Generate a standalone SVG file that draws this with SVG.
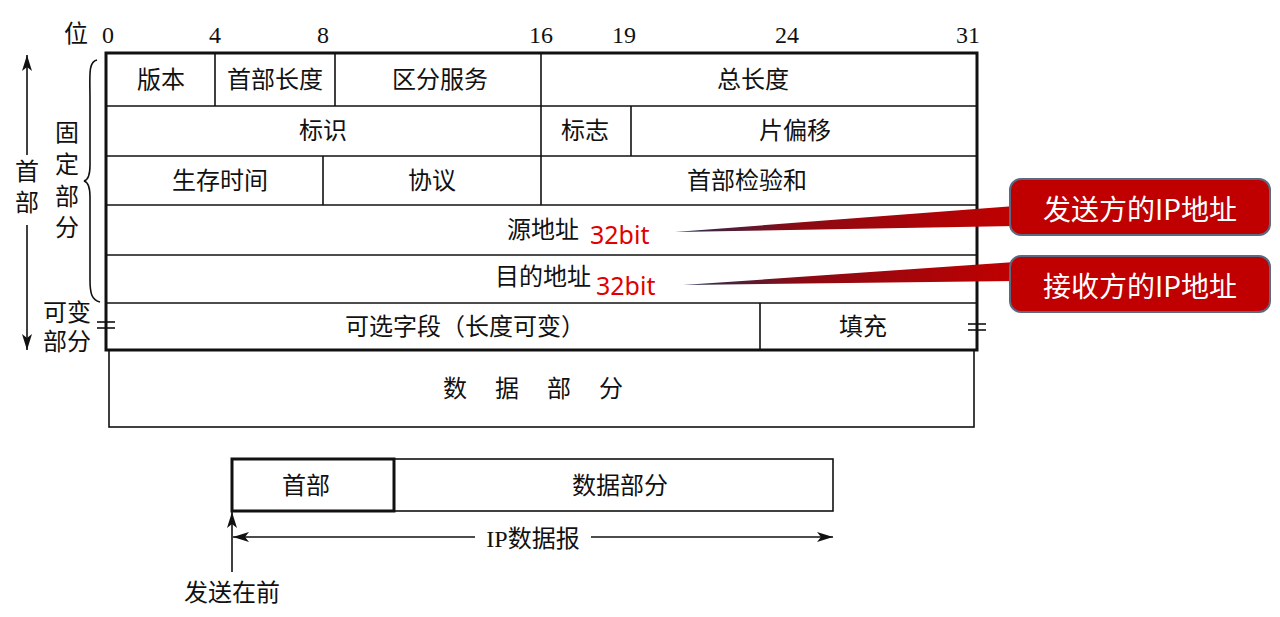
<svg xmlns="http://www.w3.org/2000/svg" width="1280" height="617" viewBox="0 0 1280 617">
<defs>
<style>
.t{font-family:"Liberation Serif","Noto Sans CJK SC",serif;font-size:24px;fill:#111;text-anchor:middle;dominant-baseline:central}
.n{font-family:"Liberation Serif",serif;font-size:24px;fill:#111;text-anchor:middle}
.thin{stroke:#111;stroke-width:1.6;fill:none}
.thick{stroke:#111;stroke-width:3;fill:none}
.red{font-family:"Noto Sans","Noto Sans CJK SC",sans-serif;font-size:25px;fill:#e00000;dominant-baseline:central}
.co{font-family:"Noto Sans CJK SC",sans-serif;font-size:28px;fill:#fff;text-anchor:middle;dominant-baseline:central}
.box{fill:#c00000;stroke:#5a6a80;stroke-width:2}
</style>
<linearGradient id="wg" x1="0" y1="0" x2="1" y2="0">
<stop offset="0" stop-color="#1f2f55"/>
<stop offset="0.35" stop-color="#8a0a14"/>
<stop offset="1" stop-color="#c00000"/>
</linearGradient>
<marker id="ah" viewBox="0 0 16 10" refX="16" refY="5" markerWidth="16" markerHeight="10" markerUnits="userSpaceOnUse" orient="auto-start-reverse">
<path d="M0,0 L16,5 L0,10 L4,5 Z" fill="#111"/>
</marker>
</defs>

<g id="bit-scale">
<text class="t" x="76" y="34">位</text>
<text class="n" x="108" y="43">0</text>
<text class="n" x="215" y="43">4</text>
<text class="n" x="323" y="43">8</text>
<text class="n" x="541" y="43">16</text>
<text class="n" x="624" y="43">19</text>
<text class="n" x="787" y="43">24</text>
<text class="n" x="968" y="43">31</text>
</g>

<g id="header-table">
<line class="thin" x1="106" y1="106" x2="977" y2="106"/>
<line class="thin" x1="106" y1="156" x2="977" y2="156"/>
<line class="thin" x1="106" y1="205" x2="977" y2="205"/>
<line class="thin" x1="106" y1="255" x2="977" y2="255"/>
<line class="thin" x1="106" y1="303" x2="977" y2="303"/>
<line class="thin" x1="215" y1="53" x2="215" y2="106"/>
<line class="thin" x1="335" y1="53" x2="335" y2="106"/>
<line class="thin" x1="541" y1="53" x2="541" y2="205"/>
<line class="thin" x1="631" y1="106" x2="631" y2="156"/>
<line class="thin" x1="323" y1="156" x2="323" y2="205"/>
<line class="thin" x1="760" y1="303" x2="760" y2="350"/>
<rect class="thick" x="106" y="53" width="871" height="297"/>
<line class="thin" x1="97" y1="322" x2="115" y2="322"/>
<line class="thin" x1="97" y1="328" x2="115" y2="328"/>
<line class="thin" x1="968" y1="324" x2="986" y2="324"/>
<line class="thin" x1="968" y1="330" x2="986" y2="330"/>
<text class="t" x="161" y="80">版本</text>
<text class="t" x="275" y="80">首部长度</text>
<text class="t" x="440" y="80">区分服务</text>
<text class="t" x="753" y="80">总长度</text>
<text class="t" x="323" y="131">标识</text>
<text class="t" x="585" y="131">标志</text>
<text class="t" x="795" y="131">片偏移</text>
<text class="t" x="220" y="181">生存时间</text>
<text class="t" x="432" y="181">协议</text>
<text class="t" x="747" y="181">首部检验和</text>
<text class="t" x="543" y="230">源地址</text>
<text class="red" x="590" y="234">32bit</text>
<text class="t" x="543" y="277">目的地址</text>
<text class="red" x="596" y="285">32bit</text>
<text class="t" x="465" y="327">可选字段（长度可变）</text>
<text class="t" x="863" y="327">填充</text>
</g>

<g id="data-part">
<rect class="thin" x="109" y="350" width="865" height="77"/>
<text class="t" x="547" y="389" letter-spacing="28">数据部分</text>
</g>

<g id="left-labels">
<text class="t" x="27" y="172">首</text>
<text class="t" x="27" y="203">部</text>
<path class="thin" d="M97,60 C88,62 90,75 90,100 L90,165 C90,175 88,180 84,181 C88,182 90,187 90,197 L90,280 C90,294 92,300 100,302"/>
<text class="t" x="67" y="133">固</text>
<text class="t" x="67" y="165">定</text>
<text class="t" x="67" y="197">部</text>
<text class="t" x="67" y="228">分</text>
<text class="t" x="67" y="313">可变</text>
<text class="t" x="67" y="342">部分</text>
</g>

<g id="callout-src">
<polygon points="675,232 1015,206 1015,226" fill="url(#wg)"/>
<rect class="box" x="1010" y="179" width="260" height="56" rx="11"/>
<text class="co" x="1140" y="208">发送方的IP地址</text>
</g>
<g id="callout-dst">
<polygon points="683,285 1015,262 1015,281" fill="url(#wg)"/>
<rect class="box" x="1010" y="256" width="260" height="56" rx="11"/>
<text class="co" x="1140" y="285">接收方的IP地址</text>
</g>

<g id="datagram">
<rect class="thin" x="394" y="459" width="439" height="52"/>
<rect class="thick" x="232" y="459" width="162" height="52"/>
<text class="t" x="306" y="486">首部</text>
<text class="t" x="620" y="486">数据部分</text>
<text class="t" x="533" y="539">IP数据报</text>
<text class="t" x="232" y="593">发送在前</text>
</g>

<g id="connectors">
<line class="thin" x1="27" y1="155" x2="27" y2="55" marker-end="url(#ah)"/>
<line class="thin" x1="27" y1="225" x2="27" y2="350" marker-end="url(#ah)"/>
<line class="thin" x1="475" y1="537" x2="233" y2="537" marker-end="url(#ah)"/>
<line class="thin" x1="591" y1="537" x2="833" y2="537" marker-end="url(#ah)"/>
<line class="thin" x1="232" y1="572" x2="232" y2="512" marker-end="url(#ah)"/>
</g>
</svg>
